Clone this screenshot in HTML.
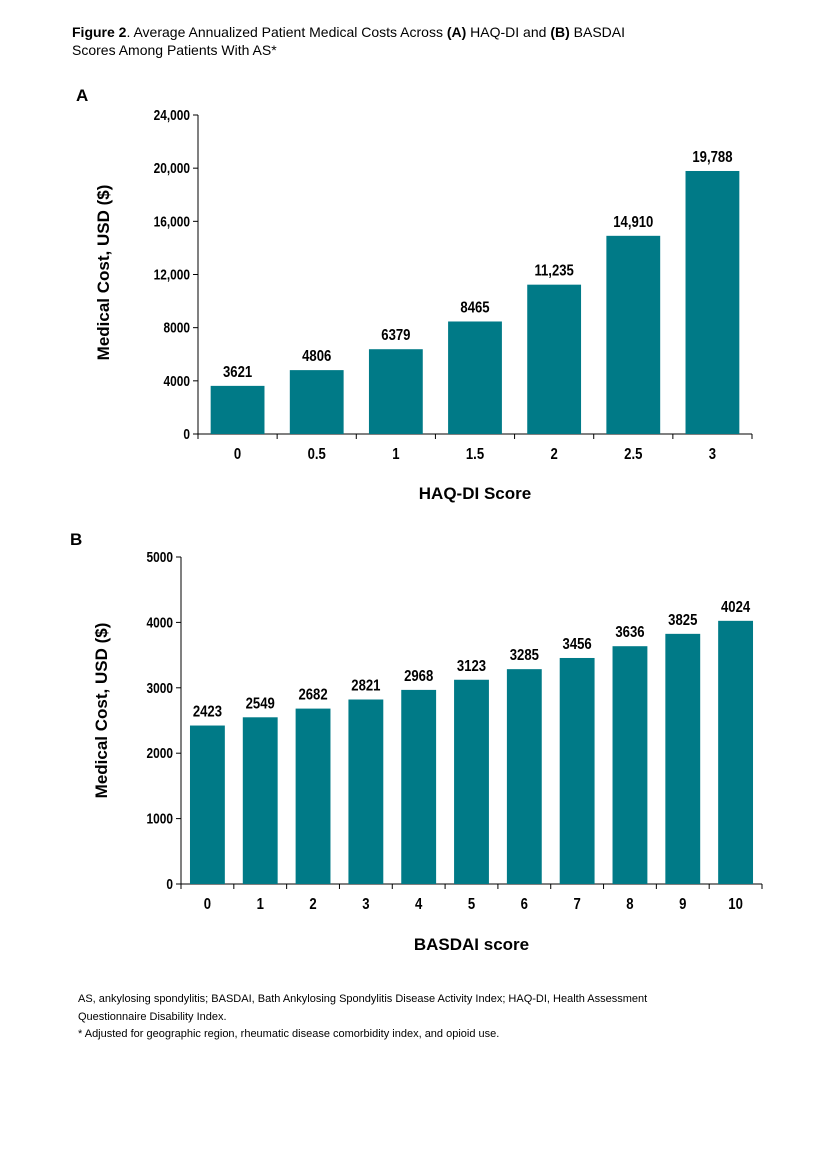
<!DOCTYPE html>
<html><head><meta charset="utf-8"><style>
body{margin:0;background:#fff;width:816px;height:1152px;overflow:hidden;font-family:"Liberation Sans",Arial,sans-serif}
.t{position:absolute;font-size:14px;color:#000;line-height:18px}
.fn{position:absolute;font-size:11px;color:#000;line-height:17.5px;left:78px;top:991px;width:640px}
svg{position:absolute;left:0;top:0}
</style></head><body>
<div class="t" style="left:72px;top:23px"><b>Figure 2</b>. Average Annualized Patient Medical Costs Across <b>(A)</b> HAQ-DI and <b>(B)</b> BASDAI<br>Scores Among Patients With AS*</div>
<div class="fn">AS, ankylosing spondylitis; BASDAI, Bath Ankylosing Spondylitis Disease Activity Index; HAQ-DI, Health Assessment Questionnaire Disability Index.<br>* Adjusted for geographic region, rheumatic disease comorbidity index, and opioid use.</div>
<svg id="s" width="816" height="1152"></svg>
<script>
const catsA=["0","0.5","1","1.5","2","2.5","3"];
const valsA=[3621,4806,6379,8465,11235,14910,19788];
const labelsA=["3621","4806","6379","8465","11,235","14,910","19,788"];
const ticksA=[0,4000,8000,12000,16000,20000,24000];
const tickLabelsA=["0","4000","8000","12,000","16,000","20,000","24,000"];
const catsB=["0","1","2","3","4","5","6","7","8","9","10"];
const valsB=[2423,2549,2682,2821,2968,3123,3285,3456,3636,3825,4024];
const labelsB=["2423","2549","2682","2821","2968","3123","3285","3456","3636","3825","4024"];
const ticksB=[0,1000,2000,3000,4000,5000];
const tickLabelsB=["0","1000","2000","3000","4000","5000"];
const svg=document.getElementById('s');const NS='http://www.w3.org/2000/svg';
function mk(t,a,txt){const e=document.createElementNS(NS,t);for(const k in a)e.setAttribute(k,a[k]);if(txt!==undefined)e.textContent=txt;svg.appendChild(e);return e;}
function nt(x,y,anchor,size,txt){return mk('text',{x:0,y:0,'text-anchor':anchor,'font-size':size,'font-weight':'bold',transform:`translate(${x},${y}) scale(0.82,1)`},txt);}
function chart(o){
 const y=v=>o.y0-(v/o.max)*(o.y0-o.y1);
 const n=o.cats.length,bw=(o.x1-o.x0)/n;
 let e=mk('line',{x1:o.x0,y1:o.y1,x2:o.x0,y2:o.y0,stroke:'#000','stroke-width':1});
 
 e=mk('line',{x1:o.x0,y1:o.y0,x2:o.x1,y2:o.y0,stroke:'#000','stroke-width':1});
 
 o.ticks.forEach((t,i)=>{mk('line',{x1:o.x0-5,y1:y(t),x2:o.x0,y2:y(t),stroke:'#000'});
  e=nt(o.x0-8,y(t)+5,'end',14.5,o.tl[i]);
  });
 for(let i=0;i<=n;i++)mk('line',{x1:o.x0+i*bw,y1:o.y0,x2:o.x0+i*bw,y2:o.y0+5,stroke:'#000'});
 o.cats.forEach((c,i)=>{const cx=o.x0+bw*(i+0.5),w=bw*o.f;
  e=mk('rect',{x:cx-w/2,y:y(o.vals[i]),width:w,height:o.y0-y(o.vals[i]),fill:'#007a87'});
  
  e=nt(cx,y(o.vals[i])-9,'middle',16,o.labels[i]);
  
  e=nt(cx,o.y0+25,'middle',16,c);
  });
 e=mk('text',{x:(o.x0+o.x1)/2,y:o.xt,'text-anchor':'middle','font-size':17,'font-weight':'bold'},o.xtitle);
 
 const cy=(o.y0+o.y1)/2+(o.yo||0);
 e=mk('text',{x:0,y:0,'text-anchor':'middle','font-size':17,'font-weight':'bold',transform:`translate(${o.yx},${cy}) rotate(-90)`},'Medical Cost, USD ($)');
 
 e=mk('text',{x:o.px,y:o.py,'font-size':17,'font-weight':'bold'},o.panel);
 
}
chart({p:'a',cats:catsA,vals:valsA,labels:labelsA,ticks:ticksA,tl:tickLabelsA,max:24000,x0:198,x1:752,y0:434,y1:115,f:0.68,xt:499,xtitle:'HAQ-DI Score',yx:109,yo:-2,panel:'A',px:76,py:101});
chart({p:'b',cats:catsB,vals:valsB,labels:labelsB,ticks:ticksB,tl:tickLabelsB,max:5000,x0:181,x1:762,y0:884,y1:557,f:0.66,xt:950,xtitle:'BASDAI score',yx:107,yo:-10,panel:'B',px:70,py:545});
</script>
</body></html>
